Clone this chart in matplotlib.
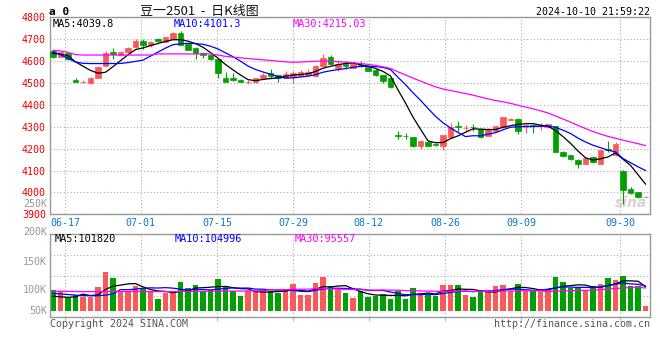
import numpy as np
import pandas as pd
import matplotlib
matplotlib.use("Agg")
import matplotlib.pyplot as plt

# daily candles of 豆一2501, oldest first
opens = [4646, 4620, 4635, 4516, 4505, 4498, 4525, 4578, 4640, 4626,
         4640, 4663, 4693, 4673, 4700, 4689, 4703, 4730, 4677, 4661,
         4635, 4629, 4608, 4525, 4522, 4516, 4503, 4505, 4521, 4544,
         4536, 4524, 4528, 4533, 4536, 4531, 4577, 4617, 4570, 4585,
         4570, 4581, 4574, 4560, 4536, 4524, 4263, 4258, 4252, 4213,
         4231, 4220, 4213, 4252, 4302, 4293, 4299, 4291, 4260, 4283,
         4298, 4333, 4337, 4304, 4307, 4304, 4298, 4302, 4187, 4169,
         4149, 4131, 4164, 4131, 4197, 4169, 4100, 4016, 4001, 3979]
closes = [4620, 4640, 4612, 4505, 4507, 4525, 4575, 4635, 4632, 4643,
          4661, 4693, 4673, 4686, 4691, 4709, 4730, 4675, 4652, 4635,
          4626, 4608, 4547, 4507, 4513, 4507, 4505, 4521, 4536, 4533,
          4524, 4541, 4547, 4550, 4550, 4577, 4615, 4589, 4588, 4579,
          4585, 4578, 4556, 4536, 4510, 4481, 4260, 4256, 4213, 4236,
          4213, 4218, 4261, 4300, 4300, 4296, 4297, 4253, 4291, 4302,
          4344, 4335, 4283, 4306, 4305, 4307, 4311, 4187, 4166, 4151,
          4131, 4157, 4137, 4192, 4195, 4222, 4012, 3998, 3978, 3981]
highs = [4650, 4643, 4638, 4522, 4513, 4527, 4578, 4646, 4658, 4648,
         4664, 4700, 4702, 4690, 4704, 4711, 4732, 4736, 4679, 4663,
         4640, 4631, 4610, 4551, 4548, 4520, 4516, 4524, 4547, 4566,
         4538, 4557, 4556, 4560, 4562, 4583, 4632, 4627, 4600, 4600,
         4588, 4600, 4576, 4562, 4538, 4529, 4283, 4270, 4254, 4240,
         4233, 4228, 4263, 4318, 4326, 4306, 4311, 4294, 4293, 4305,
         4346, 4340, 4340, 4314, 4314, 4317, 4313, 4305, 4190, 4171,
         4151, 4159, 4166, 4194, 4233, 4232, 4101, 4025, 4003, 3983]
lows = [4615, 4617, 4606, 4503, 4500, 4497, 4522, 4576, 4609, 4622,
        4638, 4660, 4656, 4663, 4688, 4687, 4701, 4673, 4650, 4610,
        4613, 4606, 4525, 4505, 4511, 4505, 4494, 4500, 4519, 4524,
        4505, 4522, 4501, 4531, 4534, 4529, 4575, 4582, 4555, 4565,
        4568, 4573, 4554, 4530, 4498, 4478, 4243, 4245, 4207, 4200,
        4211, 4210, 4194, 4250, 4276, 4276, 4283, 4251, 4258, 4281,
        4296, 4330, 4268, 4271, 4270, 4286, 4296, 4185, 4164, 4147,
        4111, 4129, 4133, 4129, 4184, 4167, 3948, 3995, 3976, 3977]
# volume, thousands of lots
volumes_k = [100.4, 97.6, 86.0, 91.7, 87.7, 87.7, 105.0, 131.6, 120.7, 96.4,
             98.7, 107.3, 103.3, 97.6, 84.3, 94.7, 95.9, 113.8, 103.3, 108.6,
             97.6, 100.4, 119.0, 104.6, 97.6, 90.0, 97.6, 95.9, 100.4, 97.6,
             94.7, 100.4, 110.3, 91.7, 91.7, 112.0, 122.4, 107.3, 100.4, 94.7,
             86.0, 97.6, 87.7, 90.0, 92.9, 84.3, 97.6, 84.3, 103.3, 94.7,
             93.5, 88.9, 108.6, 108.6, 108.6, 90.6, 87.7, 96.4, 99.8, 106.7,
             108.6, 97.6, 110.3, 97.6, 97.6, 95.9, 101.6, 122.4, 113.8, 103.3,
             103.3, 98.7, 106.2, 110.3, 120.7, 116.7, 124.6, 106.2, 107.3, 72.7]

# averages at the start of the window (history is off-chart)
ma5_head = [4636, 4632, 4625, 4597]
ma10_head = [4642, 4630, 4612, 4596, 4590, 4589, 4589, 4589, 4589]
ma30_head = [4650, 4647, 4640, 4630, 4628, 4628, 4628, 4628, 4628, 4628,
             4628, 4628, 4628, 4628, 4633, 4633, 4633, 4633, 4633, 4633,
             4633, 4633, 4628, 4622, 4618, 4615, 4612, 4609, 4606]
vma5_head = [89.0, 88.0, 87.0, 88.0]
vma10_head = [94.0, 93.0, 92.0, 91.0, 90.0, 90.0, 90.0, 91.0, 93.0]
vma30_head = [97.6, 97.6, 97.4, 97.2, 97.0, 97.0, 97.0, 97.2, 97.4, 97.4,
              97.4, 97.4, 97.2, 97.0, 97.0, 97.0, 97.0, 97.2, 97.4, 97.6,
              97.6, 97.6, 97.8, 98.0, 98.0, 98.0, 98.2, 98.4, 98.6]

date_labels = ["06-17", "07-01", "07-15", "07-29", "08-12", "08-26", "09-09", "09-30"]
price_ticks = [3900, 4000, 4100, 4200, 4300, 4400, 4500, 4600, 4700, 4800]
vol_labels = ["250K", "200K", "150K", "100K", "50K"]

# layout (pixels of the 660x360 picture)
W, H = 660, 360
date_pos = [1.6, 11.7, 21.9, 32.0, 42.1, 52.3, 62.4, 75.6]
vol_label_y = [204, 232, 262, 290, 311]
vol_floor = 64.0

RED, GREEN = "#f85a5a", "#00a000"
GRID = dict(color="#aaaaaa", linestyle=(0, (1, 2)), linewidth=0.8)
MONO = "DejaVu Sans Mono"
plt.rcParams["font.family"] = [MONO]


def box(left, top, right, bottom):
    return [left / W, 1 - bottom / H, (right - left) / W, (bottom - top) / H]


def moving_avg(vals, n, head):
    s = pd.Series(vals, dtype=float).rolling(n).mean()
    s.iloc[:len(head)] = head
    return s.values


def style(a):
    for sp in a.spines.values():
        sp.set_color("#999999")
        sp.set_linewidth(1.0)
    a.set_xlim(-0.4, len(closes) - 0.4)
    a.set_xticks(date_pos)
    a.grid(True, **GRID)
    a.set_axisbelow(True)
    a.tick_params(length=0)


o, c = np.array(opens, float), np.array(closes, float)
x = np.arange(len(closes))
cols = np.where(c >= o, RED, GREEN)

fig = plt.figure(figsize=(W / 100, H / 100), dpi=100)
ax = fig.add_axes(box(50, 17.4, 650, 214.3))
axv = fig.add_axes(box(50, 234, 650, 317))

# price panel
style(ax)
ax.set_ylim(3900, 4800)
ax.set_yticks(price_ticks)
ax.tick_params(axis="y", labelcolor="#ee0000", labelsize=7.2, pad=3)
ax.set_xticklabels(date_labels)
ax.tick_params(axis="x", labelcolor="#0a78d0", labelsize=7.2, pad=2.5)
ax.text(0.995, 0.02, "sina", transform=ax.transAxes, ha="right", va="bottom",
        fontsize=10, fontstyle="italic", fontweight="bold", color="#dcd0d0",
        family="DejaVu Sans", zorder=0.5)

ax.vlines(x, lows, highs, colors=cols, linewidth=0.8, zorder=2)
ax.bar(x, np.maximum(np.abs(c - o), 1.5), bottom=np.minimum(o, c), width=0.78,
       color=cols, edgecolor=cols, linewidth=0.5, zorder=3)
ax.plot(x, moving_avg(closes, 5, ma5_head), color="black", lw=0.9, zorder=4)
ax.plot(x, moving_avg(closes, 10, ma10_head), color="#0000ff", lw=0.9, zorder=4)
ax.plot(x, moving_avg(closes, 30, ma30_head), color="#ff00ff", lw=0.9, zorder=4)

for xp, txt, col in [(53, "MA5:4039.8", "black"), (174, "MA10:4101.3", "#0000ff"),
                     (293, "MA30:4215.03", "#ff00ff")]:
    fig.text(xp / W, 1 - 24 / H, txt, color=col, fontsize=7.4, va="center")

# volume panel
style(axv)
axv.set_ylim(53, 197)
axv.set_yticks([89, 125, 161])
axv.set_yticklabels([])
axv.set_xticklabels([])
axv.tick_params(axis="x", length=3, width=0.8, color="#bbbbbb")
v = np.array(volumes_k)
axv.bar(x, v - vol_floor, bottom=vol_floor, width=0.78, color=cols, zorder=2)
axv.plot(x, moving_avg(volumes_k, 5, vma5_head), color="black", lw=0.9, zorder=3)
axv.plot(x, moving_avg(volumes_k, 10, vma10_head), color="#0000ff", lw=0.9, zorder=3)
axv.plot(x, moving_avg(volumes_k, 30, vma30_head), color="#ff00ff", lw=0.9, zorder=3)

for xp, txt, col in [(55, "MA5:101820", "black"), (175, "MA10:104996", "#0000ff"),
                     (295, "MA30:95557", "#ff00ff")]:
    fig.text(xp / W, 1 - 239 / H, txt, color=col, fontsize=7.4, va="center")

for lab, yp in zip(vol_labels, vol_label_y):
    fig.text(47 / W, 1 - yp / H, lab, color="#999999", fontsize=7.2,
             ha="right", va="center", zorder=0)

# header and footer
fig.text(49 / W, 1 - 12 / H, "a 0", fontsize=8, fontweight="bold", va="center")
fig.text(140 / W, 1 - 12 / H, "豆一2501  -  日K线图", fontsize=9.4, va="center",
         family=["Noto Sans CJK SC", MONO], color="#111111")
fig.text(650 / W, 1 - 12 / H, "2024-10-10 21:59:22", fontsize=7.2,
         ha="right", va="center")
fig.text(50 / W, 1 - 324 / H, "Copyright 2024 SINA.COM", fontsize=7.2,
         color="#555555", va="center")
fig.text(650 / W, 1 - 324 / H, "http://finance.sina.com.cn", fontsize=7.2,
         color="#555555", ha="right", va="center")

fig.savefig("out.png", dpi=100)
